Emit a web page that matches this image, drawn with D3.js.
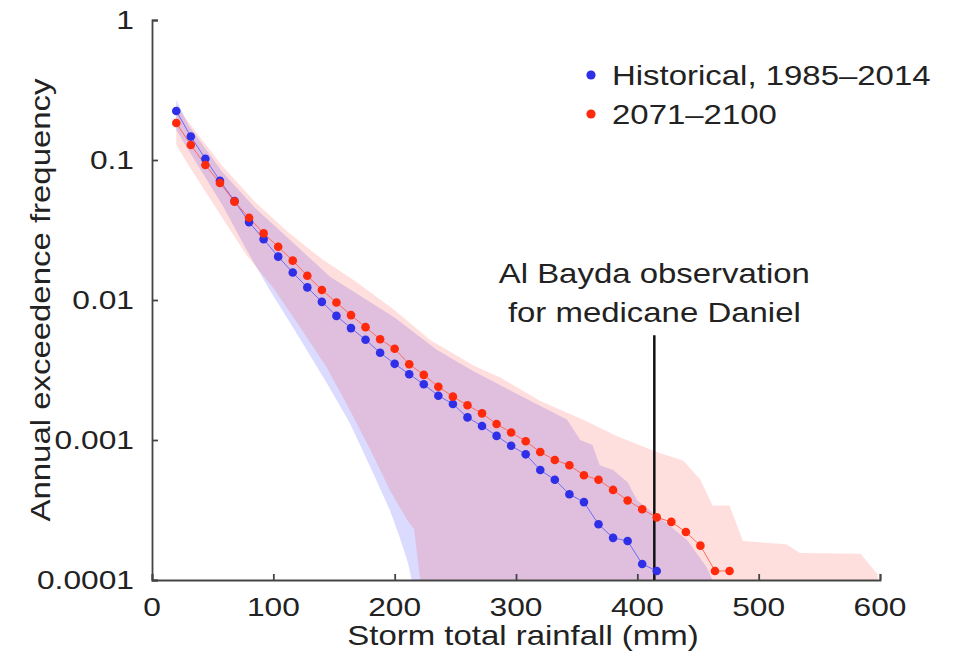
<!DOCTYPE html>
<html>
<head>
<meta charset="utf-8">
<script src="https://cdn.jsdelivr.net/npm/d3@7"></script>
<style>
  body { margin: 0; background: #fff; }
  text { font-family: "Liberation Sans", Arial, Helvetica, sans-serif; fill: #222; }
</style>
</head>
<body>
<div id="chart"></div>
<script>

// Storm total rainfall (mm) for each plotted point
var rainfall = [20, 32, 44, 56, 68, 80, 92, 104, 116, 128, 140, 152, 164, 176, 188, 200,
    212, 224, 236, 248, 260, 272, 284, 296, 308, 320, 332, 344, 356, 368, 380, 392,
    404, 416, 428, 440, 452, 464, 476];

// Annual exceedence frequency, historical 1985-2014
var historical = [0.224, 0.147, 0.102, 0.071, 0.051, 0.036, 0.0272, 0.0204, 0.0157, 0.0123,
    0.0097, 0.0077, 0.0063, 0.0052, 0.0042, 0.0035, 0.00295, 0.0025, 0.00207, 0.00181,
    0.00145, 0.00126, 0.00107, 0.00091, 0.00079, 0.00061, 0.00052, 0.00041, 0.00036,
    0.00025, 0.0002, 0.00019, 0.00013, 0.000116];

// Annual exceedence frequency, 2071-2100
var future = [0.184, 0.128, 0.092, 0.0685, 0.0504, 0.0387, 0.0299, 0.024, 0.0191, 0.0149,
    0.0118, 0.0096, 0.0078, 0.0064, 0.00525, 0.00448, 0.00348, 0.00292, 0.0024, 0.00204,
    0.00177, 0.00155, 0.0013, 0.00113, 0.00098, 0.00082, 0.00072, 0.00066, 0.00056,
    0.00052, 0.00044, 0.00037, 0.00032, 0.00028, 0.00026, 0.00022, 0.000176, 0.000116,
    0.000116];

// Uncertainty band, historical
var histUpperX = [20, 30, 58, 85, 112, 147, 199, 235, 265, 312, 342, 353, 363, 369, 380,
    392, 400, 424, 441, 457, 462];
var histUpper = [0.268, 0.178, 0.082, 0.0454, 0.0277, 0.0146, 0.0076, 0.0044, 0.0031, 0.0019,
    0.0014, 0.001, 0.00092, 0.00066, 0.00061, 0.0005, 0.00037, 0.000255, 0.000193,
    0.000124, 0.0001];
var histLowerX = [20, 30, 58, 78, 97, 119, 144, 163, 180, 196, 204, 211, 214];
var histLower = [0.164, 0.118, 0.0478, 0.0228, 0.0118, 0.0058, 0.00255, 0.00132, 0.00064,
    0.000316, 0.000203, 0.000132, 0.0001];

// Uncertainty band, 2071-2100
var futUpperX = [20, 30, 58, 85, 112, 140, 167, 199, 229, 265, 287, 320, 355, 383, 416,
    438, 452, 462, 476, 487, 523, 534, 584, 598, 598];
var futUpper = [0.247, 0.187, 0.0906, 0.0501, 0.0306, 0.0196, 0.0137, 0.0086, 0.0052, 0.0034,
    0.0028, 0.0019, 0.0014, 0.00107, 0.00082, 0.00071, 0.00052, 0.00034, 0.00034, 0.00019,
    0.00018, 0.000156, 0.000154, 0.00011, 0.0001];
var futLowerX = [20, 30, 58, 78, 100, 122, 144, 163, 180, 196, 210, 216, 221];
var futLower = [0.128, 0.092, 0.0386, 0.0209, 0.0122, 0.0064, 0.0033, 0.00164, 0.00085,
    0.00044, 0.00027, 0.00023, 0.0001];

var seriesNames = ["Historical, 1985\u20132014", "2071\u20132100"];
var xTicks = [0, 100, 200, 300, 400, 500, 600];
var yTicks = [0.0001, 0.001, 0.01, 0.1, 1];
var yTickLabels = ["0.0001", "0.001", "0.01", "0.1", "1"];

// Al Bayda observation for medicane Daniel
var observation = 414;
var observationTop = 0.0056;
var annotationLines = ["Al Bayda observation", "for medicane Daniel"];

// Dimensions and margins
var margin = { top: 20, right: 78, bottom: 81, left: 152 };
var width = 958 - margin.left - margin.right;
var height = 661 - margin.top - margin.bottom;

// text in the figure is drawn a bit wide
var stretch = 1.22;

var blue = "#2f2fe8";
var red = "#ff2a0c";

// Scales and axes
var x = d3.scaleLinear().domain([0, 600]).range([0, width]);
var y = d3.scaleLog().domain([0.0001, 1]).range([height, 0]).clamp(true);

var svg = d3.select("#chart")
    .append("svg")
    .attr("width", width + margin.left + margin.right)
    .attr("height", height + margin.top + margin.bottom)
    .append("g")
    .attr("transform", "translate(" + margin.left + "," + margin.top + ")");

svg.append("clipPath")
    .attr("id", "plotClip")
    .append("rect")
    .attr("width", width)
    .attr("height", height);

// Bands
var bandLine = d3.line()
    .x(function (d) { return x(d[0]); })
    .y(function (d) { return y(d[1]); });

function bandPoints(upX, up, loX, lo) {
    var pts = upX.map(function (d, i) { return [d, up[i]]; });
    for (var i = loX.length - 1; i >= 0; i--) pts.push([loX[i], lo[i]]);
    return pts;
}

var bands = svg.append("g").attr("clip-path", "url(#plotClip)");

bands.append("path")
    .attr("d", bandLine(bandPoints(histUpperX, histUpper, histLowerX, histLower)) + "Z")
    .attr("fill", "rgb(0,0,255)")
    .attr("fill-opacity", 0.14);

bands.append("path")
    .attr("d", bandLine(bandPoints(futUpperX, futUpper, futLowerX, futLower)) + "Z")
    .attr("fill", "rgb(255,0,0)")
    .attr("fill-opacity", 0.13);

// Axes
var xAxis = d3.axisBottom(x).tickValues(xTicks).tickSize(-6).tickPadding(0).tickFormat("");
var yAxis = d3.axisLeft(y).tickValues(yTicks).tickSize(-6).tickPadding(0).tickFormat("");

var gx = svg.append("g")
    .attr("transform", "translate(0," + height + ")")
    .call(xAxis);
var gy = svg.append("g").call(yAxis);

[gx, gy].forEach(function (g) {
    g.selectAll("path, line").attr("stroke", "#444").attr("stroke-width", 1.8);
});

gx.selectAll(".xLabel")
    .data(xTicks)
    .enter()
    .append("text")
    .attr("transform", function (d) { return "translate(" + x(d) + ",36) scale(" + stretch + ",1)"; })
    .style("text-anchor", "middle")
    .style("font-size", "26px")
    .text(function (d) { return d; });

gy.selectAll(".yLabel")
    .data(yTicks)
    .enter()
    .append("text")
    .attr("transform", function (d) { return "translate(-18," + (y(d) + 9) + ") scale(" + stretch + ",1)"; })
    .style("text-anchor", "end")
    .style("font-size", "26px")
    .text(function (d, i) { return yTickLabels[i]; });

// x axis label
svg.append("text")
    .attr("transform", "translate(" + (width / 2 + 7) + "," + (height + 65) + ") scale(" + stretch + ",1)")
    .style("text-anchor", "middle")
    .style("font-size", "27px")
    .text("Storm total rainfall (mm)");

// y axis label
svg.append("text")
    .attr("transform", "translate(" + (50 - margin.left) + "," + (height / 2) + ") rotate(-90) scale(" + stretch + ",1)")
    .style("text-anchor", "middle")
    .style("font-size", "27px")
    .text("Annual exceedence frequency");

// Observation line and note
svg.append("line")
    .attr("x1", x(observation))
    .attr("x2", x(observation))
    .attr("y1", y(observationTop))
    .attr("y2", height)
    .attr("stroke", "#111")
    .attr("stroke-width", 2.5);

svg.selectAll(".note")
    .data(annotationLines)
    .enter()
    .append("text")
    .attr("transform", function (d, i) {
        return "translate(" + x(observation) + "," + (263 + i * 39) + ") scale(" + stretch + ",1)";
    })
    .style("text-anchor", "middle")
    .style("font-size", "27px")
    .text(function (d) { return d; });

// Lines and points
var seriesLine = d3.line()
    .x(function (d) { return x(d[0]); })
    .y(function (d) { return y(d[1]); });

var series = [
    { values: historical, color: blue, lineColor: "#6d6df4" },
    { values: future, color: red, lineColor: "#ff6a5a" }
];

series.forEach(function (s) {
    var pts = s.values.map(function (v, i) { return [rainfall[i], v]; });
    svg.append("path")
        .attr("d", seriesLine(pts))
        .attr("fill", "none")
        .attr("stroke", s.lineColor)
        .attr("stroke-width", 1);
});

series.forEach(function (s) {
    var pts = s.values.map(function (v, i) { return [rainfall[i], v]; });
    svg.append("g")
        .selectAll("circle")
        .data(pts)
        .enter()
        .append("circle")
        .attr("cx", function (d) { return x(d[0]); })
        .attr("cy", function (d) { return y(d[1]); })
        .attr("r", 4.3)
        .attr("fill", s.color);
});

// Legend
var legend = svg.append("g").attr("transform", "translate(439,55)");
seriesNames.forEach(function (name, i) {
    legend.append("circle")
        .attr("cx", 0)
        .attr("cy", i * 39)
        .attr("r", 4.6)
        .attr("fill", series[i].color);
    legend.append("text")
        .attr("transform", "translate(21," + (i * 39 + 9.5) + ") scale(" + stretch + ",1)")
        .style("font-size", "27px")
        .text(name);
});

</script>
</body>
</html>
